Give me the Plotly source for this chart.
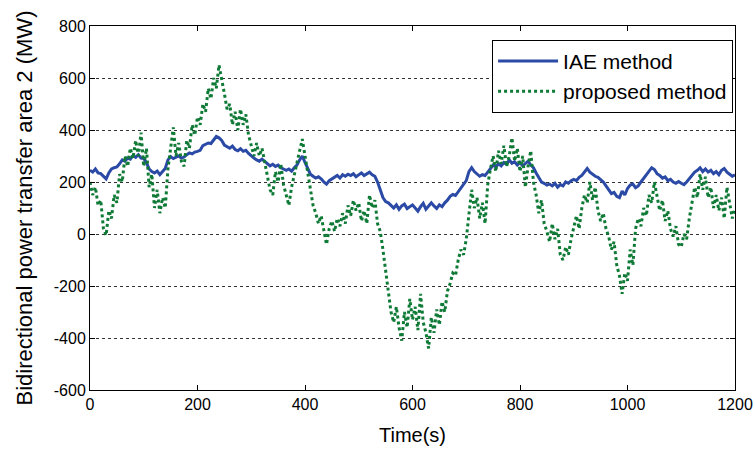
import plotly.graph_objects as go

time_s = list(range(0, 1201, 5))

iae_method = [
    245, 238, 250, 235, 232, 220, 212, 235, 250, 255, 258, 270, 285, 280, 292, 288, 302, 295, 305, 292,
    290, 275, 250, 240, 235, 242, 228, 240, 252, 285, 298, 290, 295, 300, 292, 296, 305, 312, 308, 315,
    318, 322, 340, 345, 350, 348, 362, 375, 370, 360, 342, 335, 330, 338, 325, 320, 328, 318, 322, 310,
    300, 292, 285, 280, 288, 278, 270, 262, 268, 260, 265, 255, 250, 245, 250, 242, 255, 265, 285, 300,
    275, 255, 230, 222, 215, 220, 212, 200, 192, 205, 212, 218, 225, 215, 228, 222, 230, 225, 232, 220,
    228, 235, 225, 230, 238, 228, 222, 200, 170, 140, 125, 120, 110, 100, 112, 95, 108, 115, 98, 105,
    112, 100, 88, 105, 118, 95, 110, 120, 108, 98, 112, 105, 120, 130, 145, 152, 148, 162, 175, 190,
    205, 240, 255, 240, 230, 222, 228, 225, 238, 250, 265, 258, 270, 262, 275, 268, 285, 272, 278, 265,
    275, 262, 270, 280, 265, 255, 235, 215, 200, 195, 188, 192, 185, 195, 180, 190, 185, 200, 195, 205,
    210, 205, 218, 225, 240, 252, 238, 230, 222, 218, 210, 200, 185, 170, 155, 160, 145, 140, 165, 150,
    175, 188, 192, 178, 185, 200, 215, 225, 240, 255, 248, 232, 225, 215, 220, 205, 210, 200, 195, 202,
    195, 190, 200, 212, 225, 238, 245, 255, 240, 250, 238, 245, 232, 240, 228, 245, 252, 238, 230, 222,
    228,
]

proposed_method = [
    200, 150, 180, 110, 130, 20, -5, 90, 60, 150, 120, 230, 200, 300, 260, 330, 290, 360, 300, 390,
    260, 330, 180, 230, 100, 170, 80, 140, 100, 250, 330, 410, 300, 350, 280, 260, 360, 330, 420, 380,
    450, 420, 500, 470, 560, 520, 600, 560, 650, 600, 540, 480, 500, 420, 470, 400, 480, 420, 460, 380,
    340, 300, 350, 300, 330, 280, 230, 170, 150, 240, 200, 270, 190, 150, 110, 180, 230, 280, 320, 365,
    300, 230, 160, 110, 80, 40, 70, 10, -40, 20, 50, 10, 60, 30, 80, 40, 110, 70, 130, 90,
    120, 50, 90, 40, 150, 100, 130, 40, 10, -60, -150, -220, -300, -340, -280, -360, -410, -300, -360, -250,
    -330, -280, -370, -230, -340, -380, -440, -320, -380, -290, -350, -260, -300, -220, -190, -150, -160, -100, -60, -80,
    -20, 80, 170, 100, 140, 60, 120, 40, 190, 250, 300, 240, 320, 270, 340, 260, 300, 370, 280, 330,
    240, 300, 180, 260, 320, 200, 150, 80, 130, 40, 10, -30, 40, -20, 20, -80, -100, -50, -80, -20,
    30, 70, 20, 100, 150, 120, 200, 130, 180, 90, 50, 80, 20, -10, -60, -30, -120, -160, -230, -150,
    -180, -60, -120, 20, 60, 30, 100, 70, 150, 120, 200, 140, 90, 130, 50, 90, 20, -10, 30, -40,
    -50, 0, -20, 60, 120, 180, 140, 230, 170, 220, 140, 180, 100, 150, 90, 140, 60, 180, 120, 60,
    100,
]

x_ticks = [0, 200, 400, 600, 800, 1000, 1200]
y_ticks = [-600, -400, -200, 0, 200, 400, 600, 800]

fig = go.Figure()
fig.add_trace(go.Scatter(
    x=time_s, y=iae_method, mode="lines", name="IAE method",
    line=dict(color="#2b4aa6", width=3),
))
fig.add_trace(go.Scatter(
    x=time_s, y=proposed_method, mode="lines", name="proposed method",
    line=dict(color="#0f7a36", width=3, dash="dot"),
))

font_family = "Liberation Sans, Arial, sans-serif"
fig.update_layout(
    width=755, height=450,
    margin=dict(l=90, r=20, t=26, b=60),
    paper_bgcolor="white", plot_bgcolor="white",
    font=dict(family=font_family, size=16, color="black"),
    showlegend=True,
    legend=dict(
        x=0.997, y=0.962, xanchor="right", yanchor="top",
        bgcolor="white", bordercolor="black", borderwidth=1,
        font=dict(size=21, family=font_family, color="black"),
        itemwidth=60, tracegroupgap=0,
    ),
    xaxis=dict(
        range=[0, 1200], tickvals=x_ticks, ticktext=[str(v) for v in x_ticks],
        showgrid=False, zeroline=False, automargin=False,
        showline=True, linecolor="black", linewidth=1, mirror="ticks",
        ticks="inside", ticklen=5, tickcolor="black",
        title=dict(text="Time(s)", font=dict(size=20, family=font_family)),
        tickfont=dict(size=16),
    ),
    yaxis=dict(
        range=[-600, 800], tickvals=y_ticks, ticktext=[str(v) for v in y_ticks],
        showgrid=True, gridcolor="#333333", griddash="3px,3px", gridwidth=1,
        zeroline=False, automargin=False,
        showline=True, linecolor="black", linewidth=1, mirror="ticks",
        ticks="inside", ticklen=5, tickcolor="black",
        title=dict(text="Bidirectional power transfer area 2 (MW)", font=dict(size=22, family=font_family)),
        tickfont=dict(size=16),
    ),
)

fig.write_html("out.html")
